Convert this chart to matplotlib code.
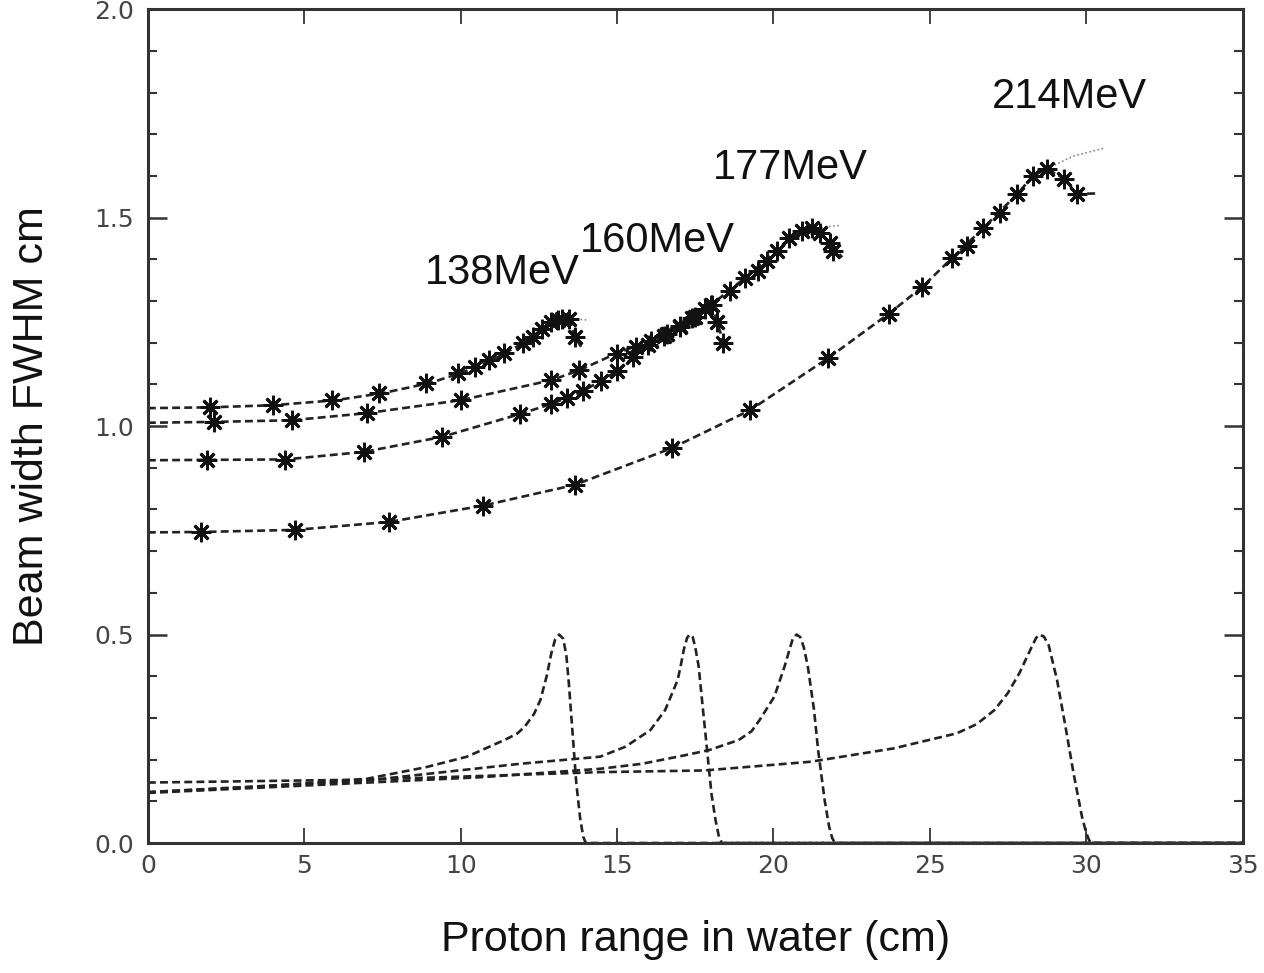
import matplotlib
matplotlib.use("Agg")
import matplotlib.pyplot as plt
from matplotlib.ticker import MultipleLocator

# Beam width (FWHM) data points
m138_x = [2.0, 4.0, 5.9, 7.4, 8.9, 9.9, 10.45, 10.9, 11.4, 12.0, 12.3, 12.6, 12.9, 13.1, 13.25, 13.45, 13.65]
m138_y = [1.045, 1.050, 1.062, 1.079, 1.103, 1.127, 1.141, 1.158, 1.175, 1.199, 1.213, 1.234, 1.249, 1.255, 1.258, 1.256, 1.213]
m160_x = [2.1, 4.6, 7.0, 10.0, 12.9, 13.8, 15.0, 15.6, 16.1, 16.6, 17.0, 17.4, 17.8, 18.05, 18.2, 18.4]
m160_y = [1.010, 1.014, 1.031, 1.062, 1.110, 1.134, 1.172, 1.190, 1.205, 1.222, 1.240, 1.260, 1.280, 1.290, 1.250, 1.200]
m177_x = [1.9, 4.4, 6.9, 9.4, 11.9, 12.9, 13.4, 13.9, 14.5, 15.0, 15.5, 16.0, 16.5, 17.0, 17.5, 18.0,
          18.6, 19.1, 19.5, 19.8, 20.1, 20.5, 20.9, 21.25, 21.5, 21.8, 21.9]
m177_y = [0.919, 0.919, 0.938, 0.974, 1.029, 1.053, 1.067, 1.083, 1.108, 1.132, 1.165, 1.195, 1.215, 1.238, 1.262, 1.290,
          1.325, 1.356, 1.373, 1.397, 1.421, 1.450, 1.469, 1.474, 1.462, 1.438, 1.421]
m214_x = [1.7, 4.7, 7.7, 10.7, 13.65, 16.75, 19.25, 21.75, 23.7, 24.75, 25.7, 26.2, 26.7, 27.25, 27.8, 28.3, 28.75, 29.3, 29.7]
m214_y = [0.746, 0.751, 0.770, 0.809, 0.859, 0.947, 1.038, 1.163, 1.270, 1.333, 1.402, 1.433, 1.474, 1.512, 1.557, 1.600, 1.617, 1.593, 1.557]

# fitted curves (dashed)
f138_x = [0, 2, 4, 6, 7.5, 9, 10, 11, 12, 12.6, 13.0, 13.3, 13.5, 13.65, 13.85]
f138_y = [1.043, 1.045, 1.050, 1.062, 1.079, 1.103, 1.127, 1.158, 1.199, 1.232, 1.250, 1.258, 1.250, 1.215, 1.190]
f160_x = [0, 2.1, 4.6, 7.0, 10.0, 12.9, 13.8, 15.0, 16.1, 17.2, 17.8, 18.05, 18.2, 18.45]
f160_y = [1.008, 1.010, 1.014, 1.031, 1.062, 1.110, 1.134, 1.175, 1.205, 1.255, 1.280, 1.290, 1.250, 1.190]
f177_x = [0, 1.9, 4.4, 6.9, 9.4, 11.9, 12.9, 13.9, 15.0, 16.0, 17.0, 18.0, 19.1, 20.1, 20.9, 21.25, 21.5, 21.8, 22.2]
f177_y = [0.918, 0.919, 0.920, 0.938, 0.974, 1.029, 1.053, 1.083, 1.132, 1.195, 1.238, 1.290, 1.356, 1.421, 1.469, 1.474, 1.462, 1.438, 1.405]
f214_x = [0, 1.7, 4.7, 7.7, 10.7, 13.65, 16.75, 19.25, 21.75, 23.7, 24.75, 25.7, 26.7, 27.8, 28.3, 28.75, 29.3, 29.7, 30.4]
f214_y = [0.745, 0.746, 0.751, 0.770, 0.809, 0.859, 0.947, 1.038, 1.163, 1.270, 1.333, 1.402, 1.474, 1.557, 1.600, 1.617, 1.593, 1.557, 1.558]

# dotted extensions of the fits
d138_x = [13.3, 13.7, 14.1]
d138_y = [1.258, 1.257, 1.254]
d177_x = [21.25, 21.7, 22.1]
d177_y = [1.474, 1.478, 1.481]
d214_x = [28.75, 29.6, 30.6]
d214_y = [1.617, 1.648, 1.667]

# depth dose (Bragg) curves, scaled to 0.5 at the peak
b138_x = [0, 3.3, 7.0, 8.9, 10.2, 11.4, 11.8, 12.05, 12.35, 12.55, 12.75, 12.9, 13.02, 13.15, 13.28, 13.38,
          13.46, 13.58, 13.7, 13.82, 13.92, 14.0, 35]
b138_y = [0.122, 0.134, 0.154, 0.182, 0.207, 0.247, 0.262, 0.279, 0.310, 0.343, 0.400, 0.455, 0.488, 0.5, 0.490, 0.450,
          0.383, 0.263, 0.142, 0.060, 0.015, 0.0, 0.0]
b160_x = [0, 7.0, 11.9, 14.46, 15.27, 16.07, 16.54, 16.94, 17.05, 17.14, 17.24, 17.32, 17.42, 17.5, 17.61, 17.75,
          17.88, 18.02, 18.15, 18.25, 18.35, 35]
b160_y = [0.122, 0.150, 0.190, 0.207, 0.231, 0.271, 0.319, 0.391, 0.430, 0.465, 0.492, 0.5, 0.494, 0.470, 0.424, 0.319,
          0.223, 0.118, 0.055, 0.018, 0.0, 0.0]
b177_x = [0, 10.7, 14.46, 15.8, 17.14, 17.95, 18.89, 19.3, 19.56, 20.03, 20.36, 20.5, 20.62, 20.74, 20.86, 20.97,
          21.1, 21.3, 21.43, 21.64, 21.78, 21.88, 21.97, 35]
b177_y = [0.120, 0.158, 0.178, 0.190, 0.210, 0.223, 0.247, 0.268, 0.295, 0.351, 0.424, 0.460, 0.490, 0.5, 0.494, 0.470,
          0.424, 0.319, 0.223, 0.102, 0.040, 0.012, 0.0, 0.0]
b214_x = [0, 7.0, 14.46, 17.8, 21.2, 23.85, 25.86, 26.5, 27.07, 27.5, 27.87, 28.1, 28.27, 28.4, 28.51, 28.65, 28.8,
          29.07, 29.34, 29.6, 29.87, 30.0, 30.1, 30.2, 35]
b214_y = [0.145, 0.152, 0.170, 0.174, 0.195, 0.227, 0.263, 0.285, 0.319, 0.360, 0.408, 0.445, 0.472, 0.492, 0.5, 0.495, 0.475,
          0.391, 0.279, 0.166, 0.062, 0.025, 0.006, 0.0, 0.0]

labels = ["138MeV", "160MeV", "177MeV", "214MeV"]
label_x = [8.85, 13.8, 18.05, 27.0]
label_y = [1.368, 1.445, 1.62, 1.79]

plt.rcParams['font.family'] = ['Liberation Sans', 'DejaVu Sans']

fig = plt.figure(figsize=(12.64, 9.73), dpi=100)
ax = fig.add_axes([0.117, 0.1336, 0.866, 0.857])

ink = "#222222"
dash = dict(color=ink, lw=1.9, ls=(0, (3, 1.6)))

for bx, by in [(b138_x, b138_y), (b160_x, b160_y), (b177_x, b177_y), (b214_x, b214_y)]:
    ax.plot(bx, by, **dash)

for fx, fy in [(f138_x, f138_y), (f160_x, f160_y), (f177_x, f177_y), (f214_x, f214_y)]:
    ax.plot(fx, fy, **dash)

for dx, dy in [(d138_x, d138_y), (d177_x, d177_y), (d214_x, d214_y)]:
    ax.plot(dx, dy, color="#888888", lw=1.2, ls=(0, (1, 1.5)))

for mx, my in [(m138_x, m138_y), (m160_x, m160_y), (m177_x, m177_y), (m214_x, m214_y)]:
    ax.plot(mx, my, ls="none", marker=(8, 2, 0), ms=14, mew=2.0, color="#111111")

for t, tx, ty in zip(labels, label_x, label_y):
    ax.text(tx, ty, t, fontsize=30, va="center", ha="left", color="#111111")

ax.set_xlim(0, 35)
ax.set_ylim(0, 2.0)
ax.xaxis.set_major_locator(MultipleLocator(5))
ax.yaxis.set_major_locator(MultipleLocator(0.5))
ax.yaxis.set_minor_locator(MultipleLocator(0.1))
ax.yaxis.set_major_formatter(plt.FuncFormatter(lambda v, p: f"{v:.1f}"))

ax.tick_params(axis="both", which="both", direction="in", top=True, right=True,
               colors="#333333", labelcolor="#444444")
ax.tick_params(axis="x", which="major", length=11, width=1.3, pad=8, labelsize=18)
ax.tick_params(axis="y", which="major", length=14, width=1.8, pad=10, labelsize=18)
ax.tick_params(axis="y", which="minor", length=6.5, width=1.5)
for lab in ax.get_xticklabels() + ax.get_yticklabels():
    lab.set_family(['DejaVu Sans'])

for s in ax.spines.values():
    s.set_linewidth(2.2)
    s.set_color("#333333")

ax.set_xlabel("Proton range in water (cm)", fontsize=31, labelpad=30, color="#111111")
ax.set_ylabel("Beam width FWHM cm", fontsize=31, labelpad=30, color="#111111")

fig.savefig("out.png", dpi=100)
